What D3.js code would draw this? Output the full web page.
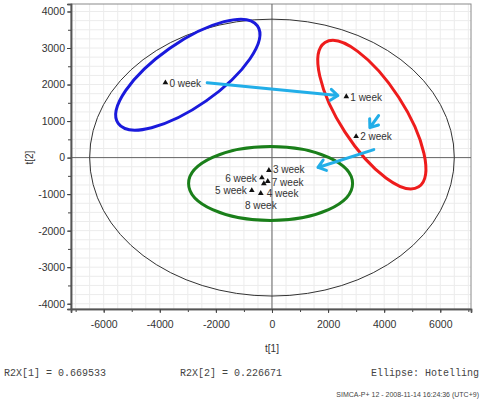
<!DOCTYPE html>
<html>
<head>
<meta charset="utf-8">
<script src="https://cdn.jsdelivr.net/npm/d3@7"></script>
<style>
body{margin:0;background:#fff;}
text{font-family:"Liberation Sans",Arial,sans-serif;}
</style>
</head>
<body>
<div id="chart"></div>
<script>
// score points t[1], t[2]
var weeks = ["0 week","1 week","2 week","3 week","4 week","5 week","6 week","7 week","8 week"]
var t1 = [-3800, 2650, 3000, -110, -400, -720, -360, -150, -290]
var t2 = [2050, 1670, 580, -350, -980, -900, -550, -650, -710]

// label placement (px offsets from point)
var labDx = [4, 4, 4, 4, 6, -5, -5, 4, -3]
var labDy = [4, 4, 4, 3, 4, 4, 4, 5, 25]
var labAnchor = ["start","start","start","start","start","end","end","start","middle"]

var xTicks = [-6000,-4000,-2000,0,2000,4000,6000]
var yTicks = [-4000,-3000,-2000,-1000,0,1000,2000,3000,4000]

// hotelling T2 ellipse semi axes
var hotelling = [6500, 3790]

// group ellipses: centre (t1,t2)
var grpCx = [-3000, 3560, -50]
var grpCy = [2270, 1175, -710]
var grpCol = ["#1a1adc", "#ee1c1c", "#1a7f1a"]
var grpShape = [[85,32,-35],[86,32,57],[82,37,0]]  // rx px, ry px, rotation

// arrows between groups
var arFrom = [[-2310,2050],[3800,1150],[3630,220]]
var arTo = [[2350,1700],[3490,820],[1640,-270]]

var margin = {top: 4, left: 71}
var width = 400, height = 305

var svg = d3.select("#chart").append("svg")
    .attr("width", 481).attr("height", 411)
var g = svg.append("g").attr("transform","translate("+margin.left+","+margin.top+")")

var x = d3.scaleLinear().domain([-7165, 7095]).range([0, width])
var y = d3.scaleLinear().domain([-4145, 4205]).range([height, 0])

//////// grid ////////
g.append("g").selectAll("line").data(d3.range(-7000, 7001, 500)).enter().append("line")
    .attr("x1", d=>x(d)).attr("x2", d=>x(d)).attr("y1",0).attr("y2",height)
    .attr("stroke","#ececec")
g.append("g").selectAll("line").data(d3.range(-4000, 4001, 250)).enter().append("line")
    .attr("y1", d=>y(d)).attr("y2", d=>y(d)).attr("x1",0).attr("x2",width)
    .attr("stroke","#ececec")

g.append("rect").attr("width",width).attr("height",height)
    .attr("fill","none").attr("stroke","#8a8a8a")

// zero lines
g.append("line").attr("x1",x(0)).attr("x2",x(0)).attr("y1",0).attr("y2",height)
    .attr("stroke","#666")
g.append("line").attr("y1",y(0)).attr("y2",y(0)).attr("x1",0).attr("x2",width)
    .attr("stroke","#666")

//////// axes ////////
var fmt = d=>String(d)
var xMinor = g.append("g").attr("transform","translate(0,"+height+")")
    .call(d3.axisBottom(x).tickValues(d3.range(-7000,7001,1000)).tickSize(3).tickFormat(""))
var xAxis = g.append("g").attr("transform","translate(0,"+height+")")
    .call(d3.axisBottom(x).tickValues(xTicks).tickSize(4).tickPadding(8).tickFormat(fmt))
var yMinor = g.append("g")
    .call(d3.axisLeft(y).tickValues(d3.range(-4000,4001,500)).tickSize(3).tickFormat(""))
var yAxis = g.append("g")
    .call(d3.axisLeft(y).tickValues(yTicks).tickSize(4).tickPadding(2).tickFormat(fmt))
;[xMinor,xAxis,yMinor,yAxis].forEach(function(a){
    a.select(".domain").attr("stroke","#555").attr("stroke-width",1.5)
    a.selectAll(".tick line").attr("stroke","#444")
    a.selectAll("text").attr("fill","#333").style("font-size","10.5px")
        .style("font-family","'Liberation Sans',Arial,sans-serif")
})

//////// hotelling ellipse ////////
g.append("ellipse").attr("cx",x(0)).attr("cy",y(0))
    .attr("rx", x(hotelling[0]) - x(0)).attr("ry", y(0) - y(hotelling[1]))
    .attr("fill","none").attr("stroke","#333").attr("stroke-width",1)

//////// group ellipses ////////
grpCx.forEach(function(d,i){
    var s = grpShape[i]
    g.append("ellipse")
        .attr("transform","translate("+x(d)+","+y(grpCy[i])+") rotate("+s[2]+")")
        .attr("rx",s[0]).attr("ry",s[1])
        .attr("fill","none").attr("stroke",grpCol[i]).attr("stroke-width",3)
})

//////// arrows ////////
arFrom.forEach(function(f,i){
    var x0 = x(f[0]), y0 = y(f[1]), x1 = x(arTo[i][0]), y1 = y(arTo[i][1])
    var ang = Math.atan2(y1-y0, x1-x0), L = 9, sp = 0.65
    var p = d3.path()
    p.moveTo(x0,y0); p.lineTo(x1,y1)
    p.moveTo(x1 - L*Math.cos(ang-sp), y1 - L*Math.sin(ang-sp))
    p.lineTo(x1,y1)
    p.lineTo(x1 - L*Math.cos(ang+sp), y1 - L*Math.sin(ang+sp))
    g.append("path").attr("d",p.toString())
        .attr("fill","none").attr("stroke","#22aee8").attr("stroke-width",3)
        .attr("stroke-linecap","round").attr("stroke-linejoin","round")
})

//////// points ////////
var tri = d3.symbol().type(d3.symbolTriangle).size(14)
g.selectAll(".pt").data(weeks).enter().append("path")
    .attr("class","pt")
    .attr("d", tri)
    .attr("transform",(d,i)=>"translate("+x(t1[i])+","+y(t2[i])+")")
    .attr("fill","#111")
g.selectAll(".lab").data(weeks).enter().append("text")
    .attr("class","lab")
    .attr("x",(d,i)=>x(t1[i])+labDx[i])
    .attr("y",(d,i)=>y(t2[i])+labDy[i])
    .attr("text-anchor",(d,i)=>labAnchor[i])
    .style("font-size","10px").attr("fill","#333")
    .text(d=>d)

//////// axis titles ////////
svg.append("text").attr("x", margin.left + x(0)).attr("y",352)
    .attr("text-anchor","middle").style("font-size","10px").attr("fill","#333").text("t[1]")
svg.append("text").attr("transform","translate(33,"+(margin.top+y(0))+") rotate(-90)")
    .attr("text-anchor","middle").style("font-size","10px").attr("fill","#333").text("t[2]")

//////// footer ////////
var foot = [["R2X[1] = 0.669533", 4, "start"], ["R2X[2] = 0.226671", 180, "start"], ["Ellipse: Hotelling", 479, "end"]]
foot.forEach(function(f){
    svg.append("text").attr("x",f[1]).attr("y",376).attr("text-anchor",f[2])
        .style("font-family","'Liberation Mono','Courier New',monospace")
        .style("font-size","10px").attr("fill","#444").text(f[0])
})
svg.append("text").attr("x",479).attr("y",397).attr("text-anchor","end")
    .style("font-size","7px").attr("fill","#444")
    .text("SIMCA-P+ 12 - 2008-11-14 16:24:36 (UTC+9)")
</script>
</body>
</html>
